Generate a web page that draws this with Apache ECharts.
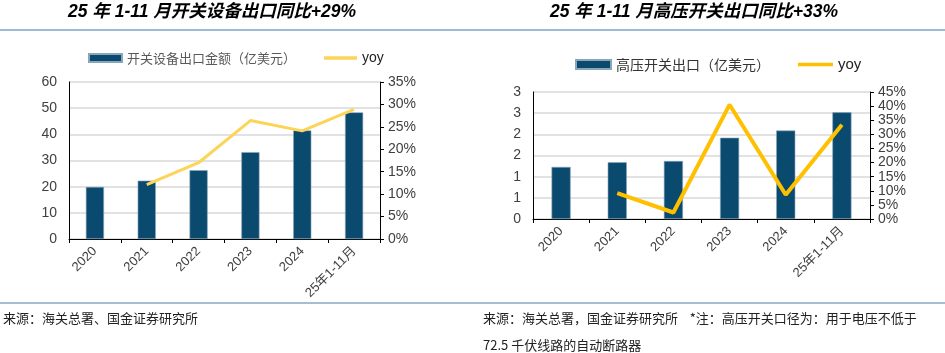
<!DOCTYPE html>
<html>
<head>
<meta charset="utf-8">
<script src="https://cdn.jsdelivr.net/npm/echarts@6/dist/echarts.min.js"></script>
<style>
  html, body { margin: 0; padding: 0; background: #fff; }
  #main { width: 945px; height: 353px; }
</style>
</head>
<body>
<div id="main"></div>
<script>
// categories shared by both panels
const years = ["2020", "2021", "2022", "2023", "2024", "25年1-11月"];

// left panel: switchgear exports (100M USD) and yoy (%)
const switchgearExport = [19.9, 22.3, 26.3, 33.2, 41.5, 48.4];
const switchgearYoy = [null, 12.1, 17.0, 26.4, 24.1, 28.9];

// right panel: high-voltage switch exports (100M USD) and yoy (%)
const hvExport = [1.23, 1.34, 1.37, 1.92, 2.09, 2.52];
const hvYoy = [null, 9.2, 2.3, 40.5, 8.6, 33.4];

const barColor = "#0b4a6f";
const latin = "'Liberation Sans', Arial, 'Noto Sans CJK SC', sans-serif";
const cjk = "'Noto Sans CJK SC', sans-serif";
// flat line used as legend icon for the yoy series
const lineIcon = "path://M0,0 H30 V3 H0 Z";

const chart = echarts.init(document.getElementById("main"));

function xAxisFor(gridIndex) {
    return {
        type: "category",
        gridIndex: gridIndex,
        data: years,
        axisLine: { lineStyle: { color: "#000", width: 1 } },
        axisTick: { show: true, length: 4, lineStyle: { color: "#000" } },
        axisLabel: {
            rotate: 45, color: "#404040", fontSize: 13, fontFamily: latin,
            margin: 10, interval: 0
        }
    };
}

function leftAxis(gridIndex, max, interval, fmt) {
    return {
        type: "value",
        gridIndex: gridIndex,
        min: 0, max: max, interval: interval,
        axisLine: { show: true, lineStyle: { color: "#000" } },
        axisTick: { show: false },
        splitLine: { lineStyle: { color: "#d9d9d9", width: 1.5 } },
        axisLabel: { color: "#404040", fontSize: 14, fontFamily: latin, margin: 12, formatter: fmt }
    };
}

function rightAxis(gridIndex, max) {
    return {
        type: "value",
        gridIndex: gridIndex,
        position: "right",
        min: 0, max: max, interval: 5,
        axisLine: { show: true, lineStyle: { color: "#000" } },
        axisTick: { show: true, inside: false, length: 4, lineStyle: { color: "#000" } },
        splitLine: { show: false },
        axisLabel: { color: "#404040", fontSize: 14, fontFamily: latin, margin: 8, formatter: "{value}%" }
    };
}

const option = {
    animation: false,
    backgroundColor: "#fff",
    grid: [
        { left: 69, right: 565, top: 82, bottom: 114 },
        { left: 533, right: 75, top: 92, bottom: 134 }
    ],
    legend: [
        {
            left: 83, top: 46, itemGap: 28,
            textStyle: { color: "#595959", fontSize: 13, fontFamily: cjk },
            data: [
                { name: "开关设备出口金额（亿美元）", icon: "rect", itemStyle: { color: barColor } },
                { name: "yoy", icon: lineIcon, itemStyle: { color: "#fbd458" },
                  textStyle: { color: "#222", fontFamily: latin, fontSize: 14 } }
            ],
            itemWidth: 33, itemHeight: 8
        },
        {
            left: 570, top: 52, itemGap: 28,
            textStyle: { color: "#333", fontSize: 14, fontFamily: cjk },
            data: [
                { name: "高压开关出口（亿美元）", icon: "rect", itemStyle: { color: barColor } },
                { name: "yoy ", icon: lineIcon, itemStyle: { color: "#ffc000" },
                  textStyle: { color: "#222", fontFamily: latin, fontSize: 15 } }
            ],
            formatter: function (n) { return n.trim(); },
            itemWidth: 35, itemHeight: 9
        }
    ],
    xAxis: [xAxisFor(0), xAxisFor(1)],
    yAxis: [
        leftAxis(0, 60, 10, "{value}"),
        rightAxis(0, 35),
        leftAxis(1, 3, 0.5, function (v) { return String(Math.round(v)); }),
        rightAxis(1, 45)
    ],
    series: [
        {
            name: "开关设备出口金额（亿美元）", type: "bar",
            xAxisIndex: 0, yAxisIndex: 0,
            data: switchgearExport, barWidth: "35%",
            itemStyle: { color: barColor, borderColor: "#8aa6bb", borderWidth: 0.6 }
        },
        {
            name: "yoy", type: "line",
            xAxisIndex: 0, yAxisIndex: 1,
            data: switchgearYoy, symbol: "none",
            lineStyle: { color: "#fbd458", width: 3 },
            itemStyle: { color: "#fbd458" }
        },
        {
            name: "高压开关出口（亿美元）", type: "bar",
            xAxisIndex: 1, yAxisIndex: 2,
            data: hvExport, barWidth: "34%",
            itemStyle: { color: barColor, borderColor: "#8aa6bb", borderWidth: 0.6 }
        },
        {
            name: "yoy ", type: "line",
            xAxisIndex: 1, yAxisIndex: 3,
            data: hvYoy, symbol: "none",
            lineStyle: { color: "#ffc000", width: 4 },
            itemStyle: { color: "#ffc000" }
        }
    ],
    graphic: [
        {
            type: "text", x: 212, y: 12,
            style: {
                text: "25 年 1-11 月开关设备出口同比+29%",
                align: "center", verticalAlign: "middle",
                font: "italic bold 17.5px " + latin, fill: "#000"
            }
        },
        {
            type: "text", x: 694, y: 12,
            style: {
                text: "25 年 1-11 月高压开关出口同比+33%",
                align: "center", verticalAlign: "middle",
                font: "italic bold 17.5px " + latin, fill: "#000"
            }
        },
        {
            type: "line", shape: { x1: 0, y1: 30, x2: 945, y2: 30 },
            style: { stroke: "#7ea6bf", lineWidth: 1.5 }
        },
        {
            type: "line", shape: { x1: 0, y1: 303, x2: 945, y2: 303 },
            style: { stroke: "#4f7f9f", lineWidth: 1.2 }
        },
        {
            type: "text", x: 3, y: 318,
            style: {
                text: "来源：海关总署、国金证券研究所",
                verticalAlign: "middle", font: "13px " + cjk, fill: "#222"
            }
        },
        {
            type: "text", x: 483, y: 318,
            style: {
                text: "来源：海关总署，国金证券研究所    *注：高压开关口径为：用于电压不低于",
                verticalAlign: "middle", font: "13px " + cjk, fill: "#222"
            }
        },
        {
            type: "text", x: 483, y: 345,
            style: {
                text: "72.5 千伏线路的自动断路器",
                verticalAlign: "middle", font: "13px " + cjk, fill: "#222"
            }
        }
    ]
};

chart.setOption(option);
</script>
</body>
</html>
